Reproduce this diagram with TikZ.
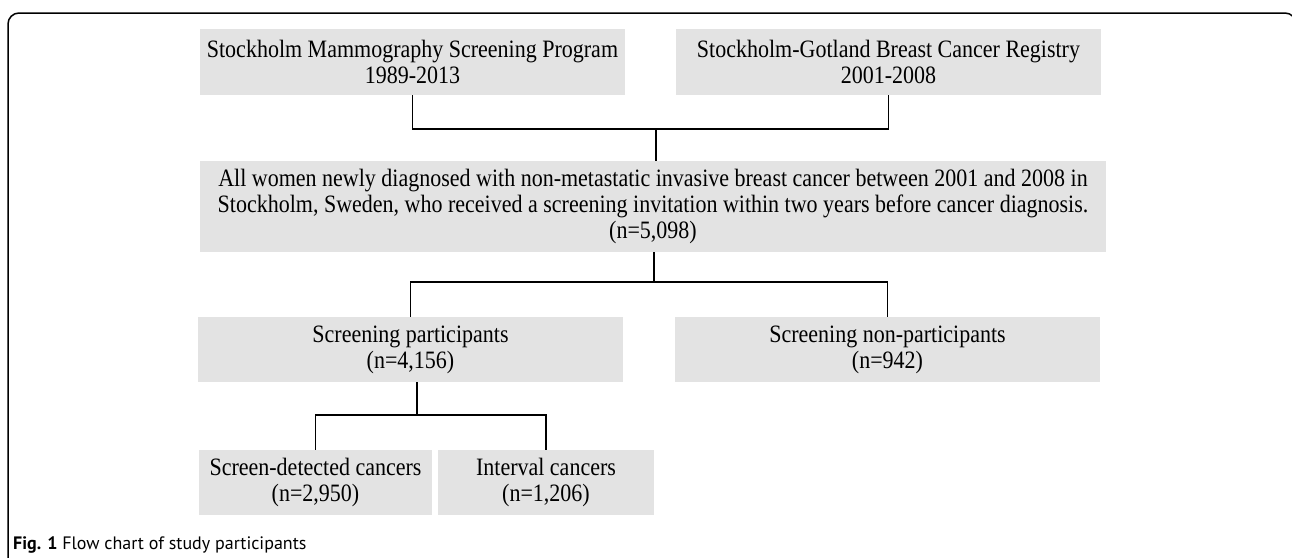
\documentclass[tikz,border=0pt]{standalone}
\usepackage{fontspec}
\setmainfont{Liberation Serif}[FakeStretch=0.88]
\newfontfamily\captionfont{PT Sans}
\usepackage{xcolor}
\usetikzlibrary{positioning,calc}
\definecolor{boxgray}{HTML}{E3E3E3}

\begin{document}
\begin{tikzpicture}[x=1pt,y=-1pt,
    flowbox/.style={fill=boxgray,align=center,inner sep=0pt,
        font=\fontsize{25}{26}\selectfont},
    link/.style={line width=1.2pt,black}]
            \useasboundingbox (0,0) rectangle (1292,557);
            % Frame
            \draw[line width=1.5pt,rounded corners=11pt] (8,570) -- (8,13) -- (1296,13) -- (1296,570);

            % Sources
            \node[flowbox,minimum width=425,minimum height=66] (smsp) at (412.5,62) {Stockholm Mammography Screening Program\\1989-2013};
            \node[flowbox,minimum width=425,minimum height=66] (sgbcr) at (888.5,62) {Stockholm-Gotland Breast Cancer Registry\\2001-2008};

            % Cohort
            \node[flowbox,minimum width=906,minimum height=91] (cohort) at (653,206.5) {All women newly diagnosed with non-metastatic invasive breast cancer between 2001 and 2008 in\\Stockholm, Sweden, who received a screening invitation within two years before cancer diagnosis.\\(n=5,098)};

            % Participation
            \node[flowbox,minimum width=425,minimum height=65] (part) at (410.5,349.5) {Screening participants\\(n=4,156)};
            \node[flowbox,minimum width=425,minimum height=65] (nonpart) at (887.5,349.5) {Screening non-participants\\(n=942)};

            % Detection mode
            \node[flowbox,minimum width=233,minimum height=65] (screen) at (315.5,482.5) {Screen-detected cancers\\(n=2,950)};
            \node[flowbox,minimum width=216,minimum height=65] (interval) at (546,482.5) {Interval cancers\\(n=1,206)};

            % Links
            \coordinate (j1) at (656,129);
            \coordinate (j2) at (654,282);
            \coordinate (j3) at (417,415);
            \draw[link] (smsp.south) |- (j1) -| (sgbcr.south);
            \draw[link] (j1) -- (j1 |- cohort.north);
            \draw[link] (cohort.south -| j2) -- (j2);
            \draw[link] (part.north) |- (j2) -| (nonpart.north);
            \draw[link] (part.south -| j3) -- (j3);
            \draw[link] (screen.north) |- (j3) -| (interval.north);

            % Caption
            \node[anchor=west,inner sep=0pt,font=\captionfont\fontsize{18}{20}\selectfont] (caption) at (13,545) {\textbf{Fig. 1} Flow chart of study participants};
        \end{tikzpicture}
\end{document}
